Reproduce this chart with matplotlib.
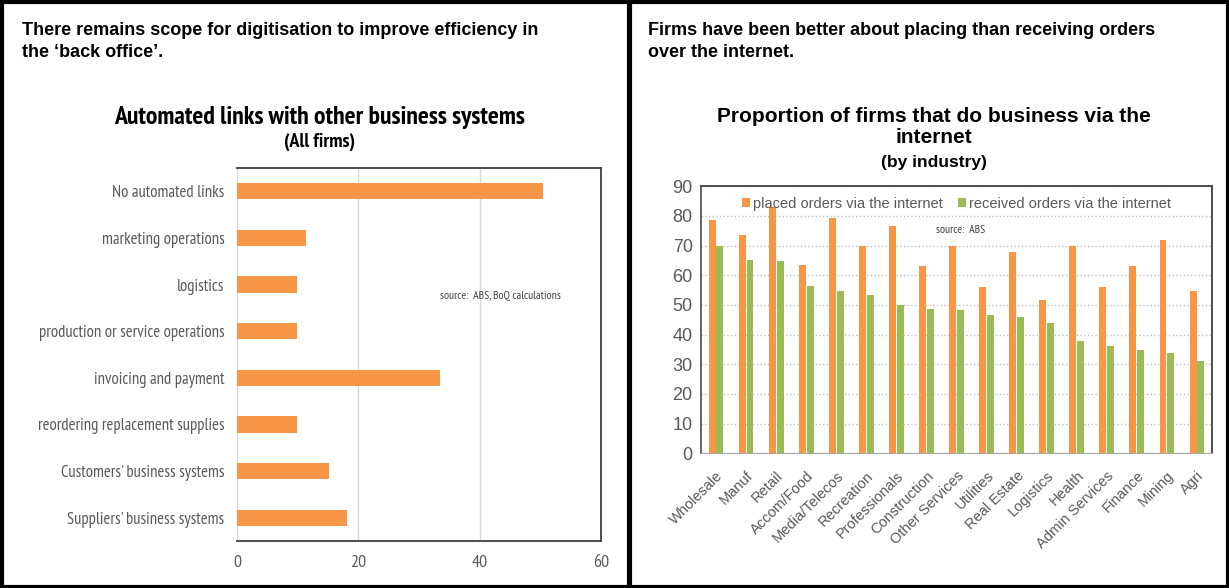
import numpy as np
import matplotlib.pyplot as plt
from matplotlib.patches import Rectangle

# left chart data
links_labels = ['No automated links', 'marketing operations', 'logistics',
                'production or service operations', 'invoicing and payment',
                'reordering replacement supplies', "Customers' business systems",
                "Suppliers' business systems"]
links_values = [50.4, 11.3, 9.9, 9.9, 33.4, 9.9, 15.2, 18.1]

# right chart data
industries = ['Wholesale', 'Manuf', 'Retail', 'Accom/Food', 'Media/Telecos',
              'Recreation', 'Professionals', 'Construction', 'Other Services',
              'Utilities', 'Real Estate', 'Logistics', 'Health', 'Admin Services',
              'Finance', 'Mining', 'Agri']
placed = [78.7, 73.5, 83.1, 63.6, 79.2, 70.0, 76.6, 63.1, 70.0, 56.0, 67.9,
          51.8, 70.0, 56.0, 63.0, 72.0, 54.7]
received = [69.9, 65.2, 64.7, 56.4, 54.8, 53.4, 49.9, 48.8, 48.2, 46.6, 46.1,
            44.0, 37.9, 36.3, 34.7, 33.7, 31.1]

orange = '#F79646'
green = '#9BBB59'
grey = '#595959'
narrow = ['PT Sans Narrow', 'DejaVu Sans']
arial = ['Liberation Sans', 'DejaVu Sans']

fig = plt.figure(figsize=(12.29, 5.88), dpi=100)

# panel frames
for x0, w in [(0.0, 631 / 1229), (627 / 1229, 602 / 1229)]:
    fig.add_artist(Rectangle((x0 + 1.5 / 1229, 1.5 / 588), w - 3 / 1229, 1 - 3 / 588,
                             transform=fig.transFigure, fill=False,
                             edgecolor='black', lw=3))

# headers
fig.text(22 / 1229, 1 - 22 / 588, 'There remains scope for digitisation to improve efficiency in\nthe \u2018back office\u2019.',
         fontsize=13, fontweight='bold', family=arial, va='top', ha='left',
         linespacing=1.4)
fig.text(648 / 1229, 1 - 22 / 588, 'Firms have been better about placing than receiving orders\nover the internet.',
         fontsize=13, fontweight='bold', family=arial, va='top', ha='left',
         linespacing=1.4)

# ---- left chart
ax1 = fig.add_axes([237 / 1229, 1 - 541 / 588, 364 / 1229, 373 / 588])
ypos = np.arange(len(links_labels))
ax1.barh(ypos, links_values, height=0.35, color=orange, zorder=3)
ax1.set_xlim(0, 60)
ax1.set_ylim(len(links_labels) - 0.5, -0.5)
ax1.set_xticks([0, 20, 40, 60])
ax1.set_yticks(ypos)
ax1.set_yticklabels(links_labels)
ax1.xaxis.grid(True, color='#D9D9D9', lw=1, zorder=0)
ax1.tick_params(axis='y', length=0, labelcolor=grey, labelsize=12, pad=9)
ax1.tick_params(axis='x', length=0, labelcolor=grey, labelsize=13, pad=10)
for lab in ax1.get_xticklabels() + ax1.get_yticklabels():
    lab.set_family(narrow)
for s in ['top', 'right', 'bottom']:
    ax1.spines[s].set_color('#404040')
    ax1.spines[s].set_linewidth(1.3)
ax1.spines['left'].set_color('#D9D9D9')
ax1.text(0.557, 0.657, 'source:  ABS, BoQ calculations', transform=ax1.transAxes,
         fontsize=8.5, family=narrow, color='#404040', va='center')
fig.text(320 / 1229, 1 - 117 / 588, 'Automated links with other business systems',
         fontsize=18.5, fontweight='bold', family=narrow, ha='center', va='center')
fig.text(320 / 1229, 1 - 142 / 588, '(All firms)', fontsize=14.5, fontweight='bold',
         family=narrow, ha='center', va='center')

# ---- right chart
ax2 = fig.add_axes([701 / 1229, 1 - 453.3 / 588, 511 / 1229, 267 / 588])
xpos = np.arange(len(industries))
ax2.bar(xpos - 0.13, placed, width=0.23, color=orange, zorder=3,
        label='placed orders via the internet')
ax2.bar(xpos + 0.13, received, width=0.23, color=green, zorder=3,
        label='received orders via the internet')
ax2.set_xlim(-0.5, len(industries) - 0.5)
ax2.set_ylim(0, 90)
ax2.set_yticks(range(0, 91, 10))
ax2.set_xticks(xpos)
ax2.set_xticklabels(industries, rotation=45, ha='right', rotation_mode='anchor')
ax2.yaxis.grid(True, color='#BFBFBF', lw=1, ls=':', zorder=0)
ax2.tick_params(axis='y', length=0, labelcolor=grey, labelsize=13, pad=6)
ax2.tick_params(axis='x', length=0, labelcolor=grey, labelsize=10.5, pad=11)
for lab in ax2.get_xticklabels() + ax2.get_yticklabels():
    lab.set_family(arial)
for s in ['top', 'right']:
    ax2.spines[s].set_color('#404040')
    ax2.spines[s].set_linewidth(1.3)
ax2.spines['left'].set_color(grey)
ax2.spines['left'].set_linewidth(1.3)
ax2.spines['bottom'].set_color('#A6A6A6')
leg = ax2.legend(ncol=2, loc='upper center', bbox_to_anchor=(0.5, 1.01), frameon=False,
                 handlelength=0.6, handleheight=0.6, handletextpad=0.2,
                 columnspacing=1.0, prop={'family': arial, 'size': 10.5})
for t in leg.get_texts():
    t.set_color(grey)
ax2.text(0.46, 0.837, 'source:  ABS', transform=ax2.transAxes, fontsize=8.5,
         family=narrow, color='#404040', va='center')
fig.text(934 / 1229, 1 - 127 / 588, 'Proportion of firms that do business via the\ninternet',
         fontsize=15, fontweight='bold', family=arial, ha='center', va='center',
         linespacing=1.15)
fig.text(934 / 1229, 1 - 163 / 588, '(by industry)', fontsize=12.5, fontweight='bold',
         family=arial, ha='center', va='center')

fig.savefig('out.png', dpi=100)
